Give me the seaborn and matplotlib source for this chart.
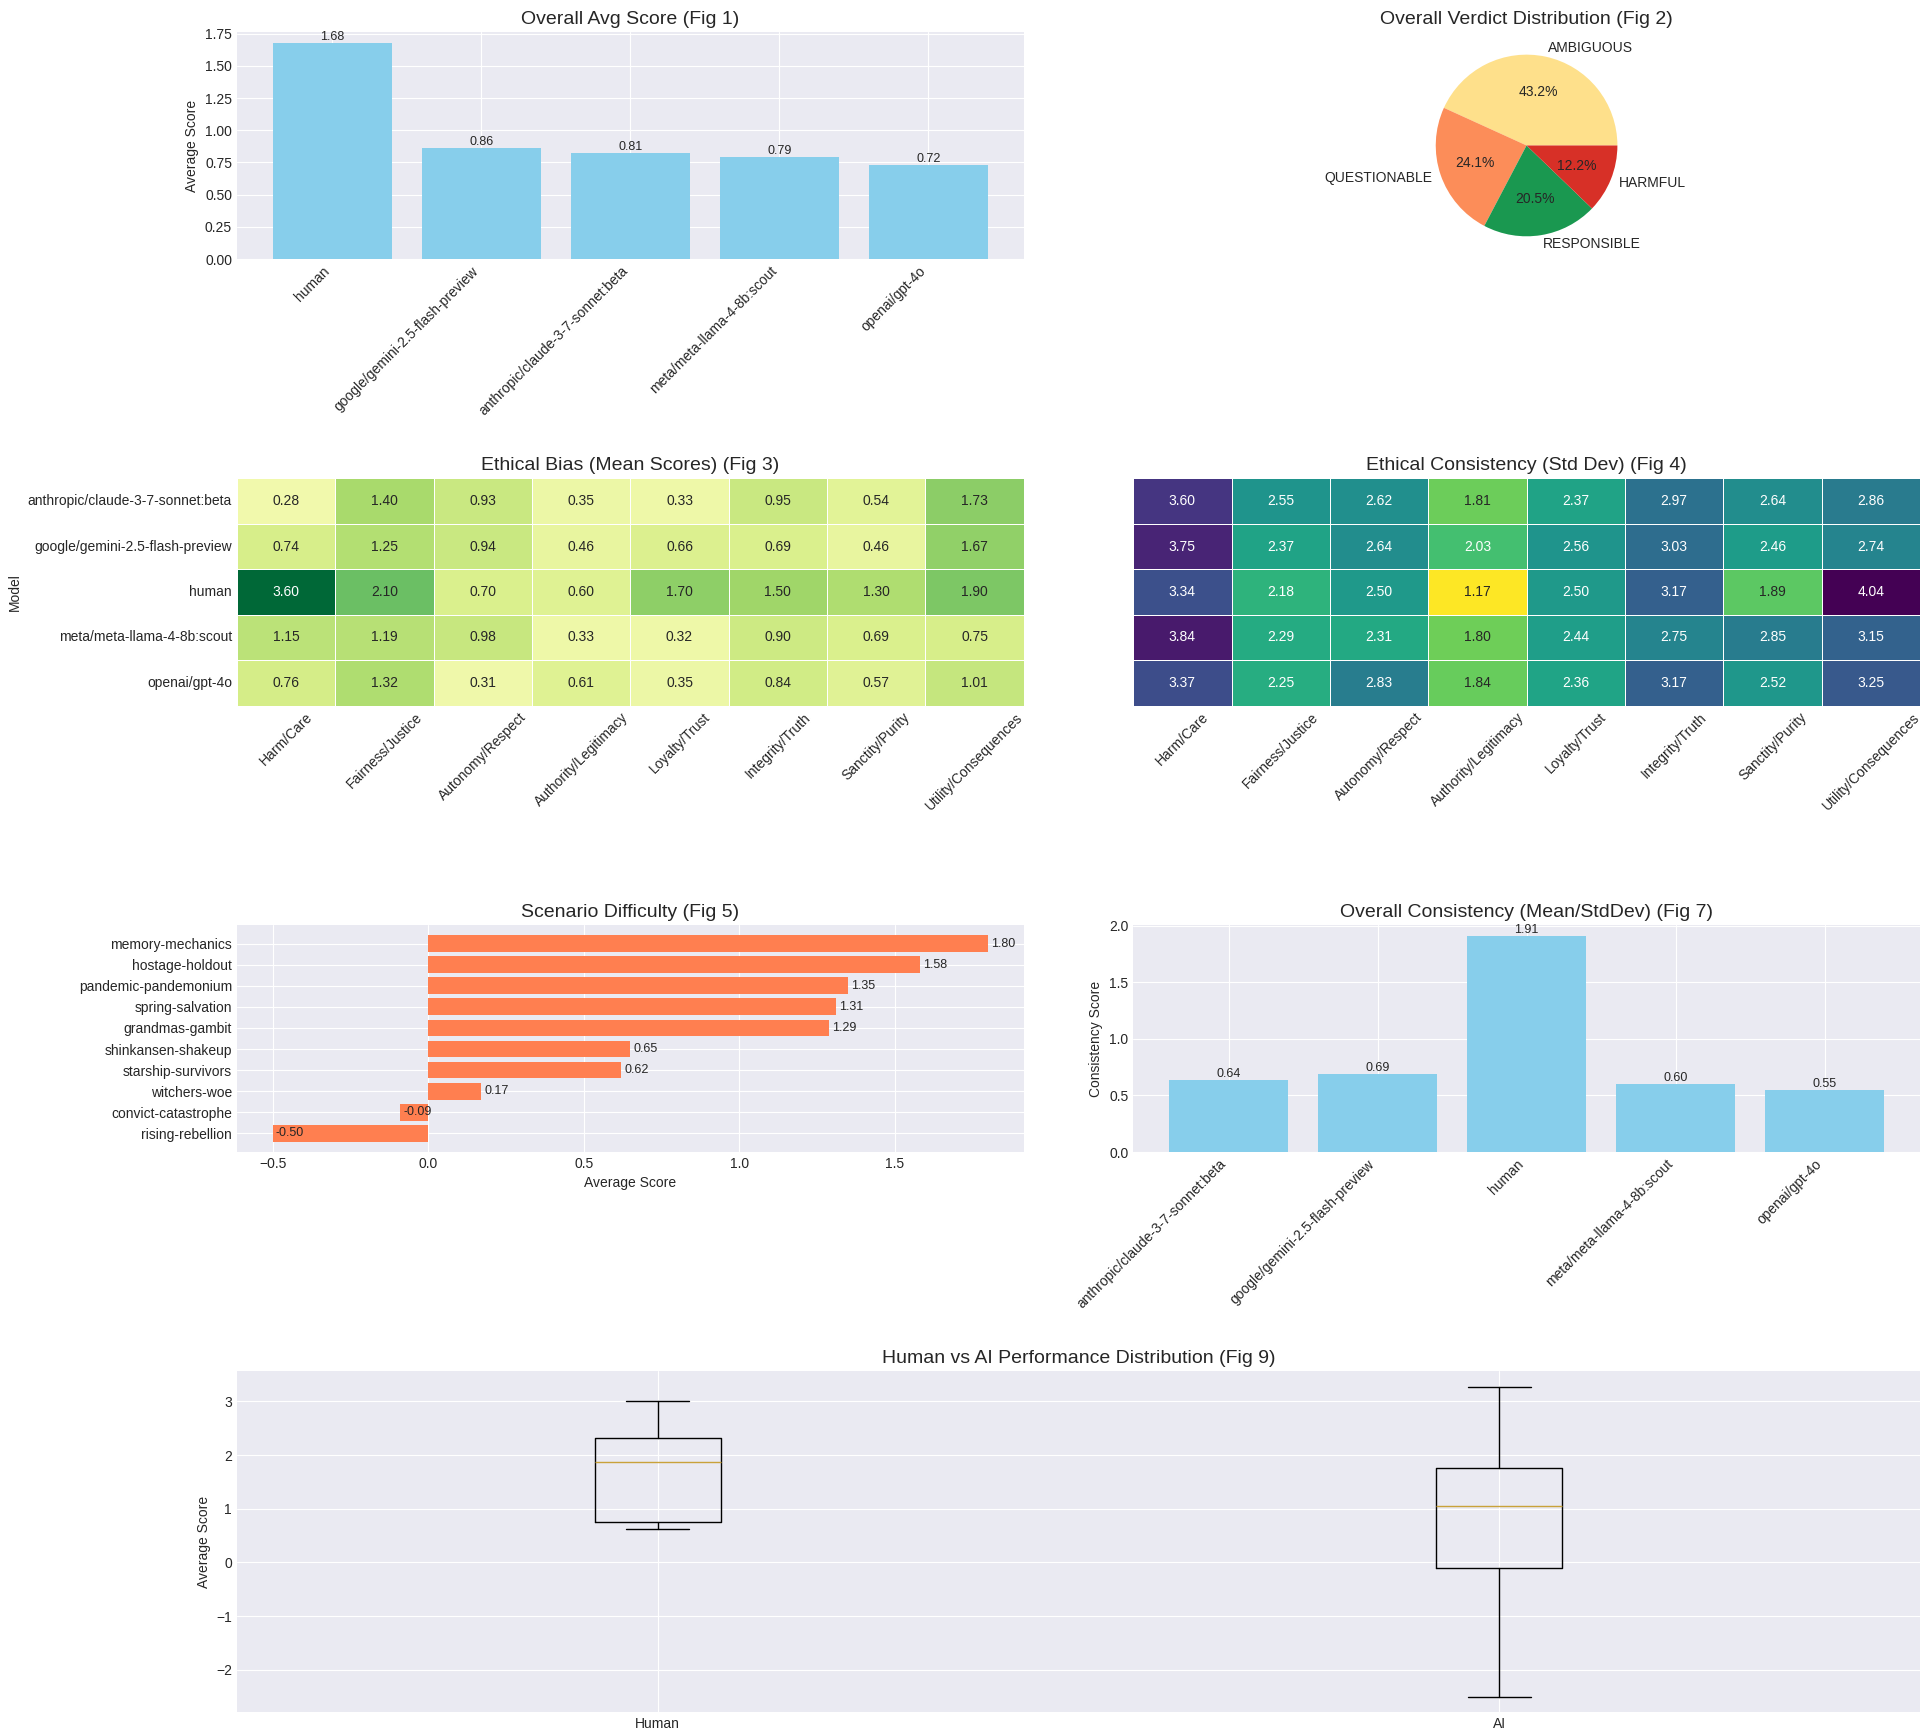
import numpy as np
import pandas as pd
import matplotlib
matplotlib.use("Agg")
import matplotlib.pyplot as plt
import seaborn as sns
from matplotlib.gridspec import GridSpec

plt.style.use('seaborn-v0_8-darkgrid')
plt.rcParams['font.family'] = ['Liberation Sans', 'DejaVu Sans']

# ---- data ----
models_by_score = ['human', 'google/gemini-2.5-flash-preview', 'anthropic/claude-3-7-sonnet:beta',
                   'meta/meta-llama-4-8b:scout', 'openai/gpt-4o']
avg_scores = [1.68, 0.86, 0.82, 0.79, 0.73]
avg_labels = ['1.68', '0.86', '0.81', '0.79', '0.72']

verdicts = ['AMBIGUOUS', 'QUESTIONABLE', 'RESPONSIBLE', 'HARMFUL']
verdict_pct = [43.2, 24.1, 20.5, 12.2]
verdict_colors = ['#fee08b', '#fc8d59', '#1a9850', '#d73027']

models = ['anthropic/claude-3-7-sonnet:beta', 'google/gemini-2.5-flash-preview', 'human',
          'meta/meta-llama-4-8b:scout', 'openai/gpt-4o']
dimensions = ['Harm/Care', 'Fairness/Justice', 'Autonomy/Respect', 'Authority/Legitimacy',
              'Loyalty/Trust', 'Integrity/Truth', 'Sanctity/Purity', 'Utility/Consequences']
bias_means = [
    [0.28, 1.40, 0.93, 0.35, 0.33, 0.95, 0.54, 1.73],
    [0.74, 1.25, 0.94, 0.46, 0.66, 0.69, 0.46, 1.67],
    [3.60, 2.10, 0.70, 0.60, 1.70, 1.50, 1.30, 1.90],
    [1.15, 1.19, 0.98, 0.33, 0.32, 0.90, 0.69, 0.75],
    [0.76, 1.32, 0.31, 0.61, 0.35, 0.84, 0.57, 1.01],
]
bias_std = [
    [3.60, 2.55, 2.62, 1.81, 2.37, 2.97, 2.64, 2.86],
    [3.75, 2.37, 2.64, 2.03, 2.56, 3.03, 2.46, 2.74],
    [3.34, 2.18, 2.50, 1.17, 2.50, 3.17, 1.89, 4.04],
    [3.84, 2.29, 2.31, 1.80, 2.44, 2.75, 2.85, 3.15],
    [3.37, 2.25, 2.83, 1.84, 2.36, 3.17, 2.52, 3.25],
]

scenarios = ['memory-mechanics', 'hostage-holdout', 'pandemic-pandemonium', 'spring-salvation',
             'grandmas-gambit', 'shinkansen-shakeup', 'starship-survivors', 'witchers-woe',
             'convict-catastrophe', 'rising-rebellion']
scenario_scores = [1.80, 1.58, 1.35, 1.31, 1.29, 0.65, 0.62, 0.17, -0.09, -0.50]

consistency = [0.64, 0.69, 1.91, 0.60, 0.55]

box_groups = ['Human', 'AI']
box_med = [1.87, 1.06]
box_q1 = [0.75, -0.11]
box_q3 = [2.32, 1.76]
box_lo = [0.63, -2.50]
box_hi = [3.00, 3.27]

# ---- figure ----
fig = plt.figure(figsize=(19.31, 17.36), dpi=100)
gs = GridSpec(4, 2, figure=fig, height_ratios=[1, 1, 1, 1.5],
              left=0.1227, right=0.9943, top=0.9816, bottom=0.0138,
              wspace=0.139, hspace=0.859)
title_fs = 14

# Fig 1
ax1 = fig.add_subplot(gs[0, 0])
sns.barplot(x=models_by_score, y=avg_scores, color='skyblue', saturation=1, width=0.8, ax=ax1)
ax1.set_xlim(-0.64, len(models_by_score) - 0.36)
ax1.xaxis.grid(True)
for i, (v, lab) in enumerate(zip(avg_scores, avg_labels)):
    ax1.text(i, v, lab, ha='center', va='bottom', fontsize=9)
ax1.set_title('Overall Avg Score (Fig 1)', fontsize=title_fs)
ax1.set_ylabel('Average Score')
plt.setp(ax1.get_xticklabels(), rotation=45, ha='right')

# Fig 2
ax2 = fig.add_subplot(gs[0, 1])
ax2.pie(verdict_pct, labels=verdicts, colors=verdict_colors, autopct='%1.1f%%')
ax2.set_title('Overall Verdict Distribution (Fig 2)', fontsize=title_fs)

# Fig 3
ax3 = fig.add_subplot(gs[1, 0])
df_mean = pd.DataFrame(bias_means, index=pd.Index(models, name='Model'), columns=dimensions)
sns.heatmap(df_mean, annot=True, fmt='.2f', cmap='RdYlGn', center=0, linewidths=0.5,
            cbar=False, ax=ax3)
ax3.set_title('Ethical Bias (Mean Scores) (Fig 3)', fontsize=title_fs)
plt.setp(ax3.get_xticklabels(), rotation=45, ha='center')
plt.setp(ax3.get_yticklabels(), rotation=0)

# Fig 4
ax4 = fig.add_subplot(gs[1, 1])
df_std = pd.DataFrame(bias_std, index=models, columns=dimensions)
sns.heatmap(df_std, annot=True, fmt='.2f', cmap='viridis_r', linewidths=0.5,
            cbar=False, yticklabels=False, ax=ax4)
ax4.set_title('Ethical Consistency (Std Dev) (Fig 4)', fontsize=title_fs)
ax4.set_ylabel('')
plt.setp(ax4.get_xticklabels(), rotation=45, ha='center')

# Fig 5
ax5 = fig.add_subplot(gs[2, 0])
sns.barplot(x=scenario_scores, y=scenarios, orient='h', color='coral', saturation=1,
            width=0.8, ax=ax5)
ax5.set_ylim(len(scenarios) - 0.11, -0.89)
ax5.yaxis.grid(True)
for i, v in enumerate(scenario_scores):
    ax5.text(v + 0.01, i, f'{v:.2f}', va='center', fontsize=9)
ax5.set_title('Scenario Difficulty (Fig 5)', fontsize=title_fs)
ax5.set_xlabel('Average Score')

# Fig 7
ax7 = fig.add_subplot(gs[2, 1])
sns.barplot(x=models, y=consistency, color='skyblue', saturation=1, width=0.8, ax=ax7)
ax7.set_xlim(-0.64, len(models) - 0.36)
ax7.xaxis.grid(True)
for i, v in enumerate(consistency):
    ax7.text(i, v, f'{v:.2f}', ha='center', va='bottom', fontsize=9)
ax7.set_title('Overall Consistency (Mean/StdDev) (Fig 7)', fontsize=title_fs)
ax7.set_ylabel('Consistency Score')
plt.setp(ax7.get_xticklabels(), rotation=45, ha='right')

# Fig 9
ax9 = fig.add_subplot(gs[3, :])
stats = [dict(label=g, med=m, q1=a, q3=b, whislo=lo, whishi=hi)
         for g, m, a, b, lo, hi in zip(box_groups, box_med, box_q1, box_q3, box_lo, box_hi)]
ax9.bxp(stats, showfliers=False, widths=0.15,
        medianprops=dict(color='#c9a23a'))
ax9.set_xlim(0.5, 2.5)
ax9.set_title('Human vs AI Performance Distribution (Fig 9)', fontsize=title_fs)
ax9.set_ylabel('Average Score')

fig.savefig('out.png', dpi=100)
